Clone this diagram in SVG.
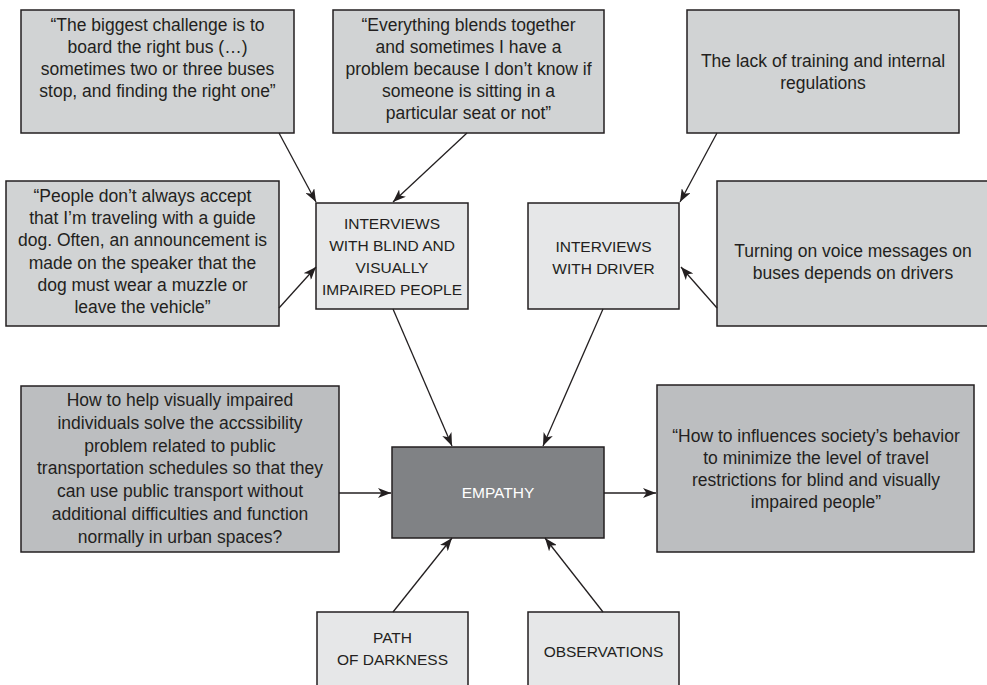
<svg xmlns="http://www.w3.org/2000/svg" width="987" height="685" viewBox="0 0 987 685">
<defs>
<style>
.box{stroke:#231f20;stroke-width:1.5}
.q{fill:#d1d3d4}
.m{fill:#e6e7e8}
.d{fill:#bcbec0}
.e{fill:#808285}
text{font-family:"Liberation Sans",Arial,sans-serif;fill:#231f20;text-anchor:middle}
.t{font-size:17.5px}
.c{font-size:15.5px}
.w{fill:#ffffff}
.conn line{stroke:#231f20;stroke-width:1.3;marker-end:url(#ah)}
</style>
<marker id="ah" markerUnits="userSpaceOnUse" markerWidth="14" markerHeight="10" viewBox="0 0 14 10" refX="13" refY="5" orient="auto">
<path d="M0,0 L13,5 L0,10 L3.5,5 Z" fill="#231f20"/>
</marker>
</defs>
<rect width="987" height="685" fill="#ffffff"/>

<g id="quote-bus">
<rect class="box q" x="21" y="10" width="273" height="123"/>
<text class="t" x="157.5" y="31">“The biggest challenge is to</text>
<text class="t" x="157.5" y="53">board the right bus (…)</text>
<text class="t" x="157.5" y="75">sometimes two or three buses</text>
<text class="t" x="157.5" y="97">stop, and finding the right one”</text>
</g>

<g id="quote-seat">
<rect class="box q" x="333" y="10" width="271" height="123"/>
<text class="t" x="468.5" y="31">“Everything blends together</text>
<text class="t" x="468.5" y="53">and sometimes I have a</text>
<text class="t" x="468.5" y="75">problem because I don’t know if</text>
<text class="t" x="468.5" y="97">someone is sitting in a</text>
<text class="t" x="468.5" y="119">particular seat or not”</text>
</g>

<g id="training">
<rect class="box q" x="687" y="10" width="272" height="123"/>
<text class="t" x="823" y="67">The lack of training and internal</text>
<text class="t" x="823" y="89">regulations</text>
</g>

<g id="quote-dog">
<rect class="box q" x="6" y="181" width="273" height="145"/>
<text class="t" x="142.5" y="202">“People don’t always accept</text>
<text class="t" x="142.5" y="224">that I’m traveling with a guide</text>
<text class="t" x="142.5" y="246">dog. Often, an announcement is</text>
<text class="t" x="142.5" y="269">made on the speaker that the</text>
<text class="t" x="142.5" y="291">dog must wear a muzzle or</text>
<text class="t" x="142.5" y="313">leave the vehicle”</text>
</g>

<g id="interviews-blind">
<rect class="box m" x="316" y="203" width="152" height="106"/>
<text class="c" x="392" y="229">INTERVIEWS</text>
<text class="c" x="392" y="251">WITH BLIND AND</text>
<text class="c" x="392" y="273">VISUALLY</text>
<text class="c" x="392" y="295">IMPAIRED PEOPLE</text>
</g>

<g id="interviews-driver">
<rect class="box m" x="528" y="203" width="151" height="106"/>
<text class="c" x="603.5" y="252">INTERVIEWS</text>
<text class="c" x="603.5" y="274">WITH DRIVER</text>
</g>

<g id="voice-messages">
<rect class="box q" x="717" y="181" width="280" height="145"/>
<text class="t" x="853" y="257">Turning on voice messages on</text>
<text class="t" x="853" y="279">buses depends on drivers</text>
</g>

<g id="question-schedules">
<rect class="box d" x="21" y="386" width="318" height="166"/>
<text class="t" x="180" y="406">How to help visually impaired</text>
<text class="t" x="180" y="429">individuals solve the accssibility</text>
<text class="t" x="180" y="452">problem related to public</text>
<text class="t" x="180" y="474">transportation schedules so that they</text>
<text class="t" x="180" y="497">can use public transport without</text>
<text class="t" x="180" y="520">additional difficulties and function</text>
<text class="t" x="180" y="543">normally in urban spaces?</text>
</g>

<g id="empathy">
<rect class="box e" x="392" y="447" width="212" height="91"/>
<text class="c w" x="498" y="498">EMPATHY</text>
</g>

<g id="question-society">
<rect class="box d" x="657" y="385" width="317" height="167"/>
<text class="t" x="816" y="442">“How to influences society’s behavior</text>
<text class="t" x="816" y="464">to minimize the level of travel</text>
<text class="t" x="816" y="486">restrictions for blind and visually</text>
<text class="t" x="816" y="508">impaired people”</text>
</g>

<g id="path-of-darkness">
<rect class="box m" x="317" y="612" width="151" height="90"/>
<text class="c" x="392.5" y="643">PATH</text>
<text class="c" x="392.5" y="665">OF DARKNESS</text>
</g>

<g id="observations">
<rect class="box m" x="528" y="612" width="151" height="90"/>
<text class="c" x="603.5" y="657">OBSERVATIONS</text>
</g>

<g id="connectors" class="conn">
<line x1="279" y1="133" x2="316" y2="202"/>
<line x1="467" y1="133" x2="393" y2="202"/>
<line x1="279" y1="308" x2="316" y2="267"/>
<line x1="393" y1="309" x2="452" y2="446"/>
<line x1="717" y1="133" x2="680" y2="202"/>
<line x1="717" y1="308" x2="681" y2="267"/>
<line x1="603" y1="309" x2="543" y2="446"/>
<line x1="339" y1="493" x2="391" y2="493"/>
<line x1="604" y1="493" x2="656" y2="493"/>
<line x1="393" y1="612" x2="452" y2="538"/>
<line x1="603" y1="612" x2="545" y2="538"/>
</g>
</svg>
